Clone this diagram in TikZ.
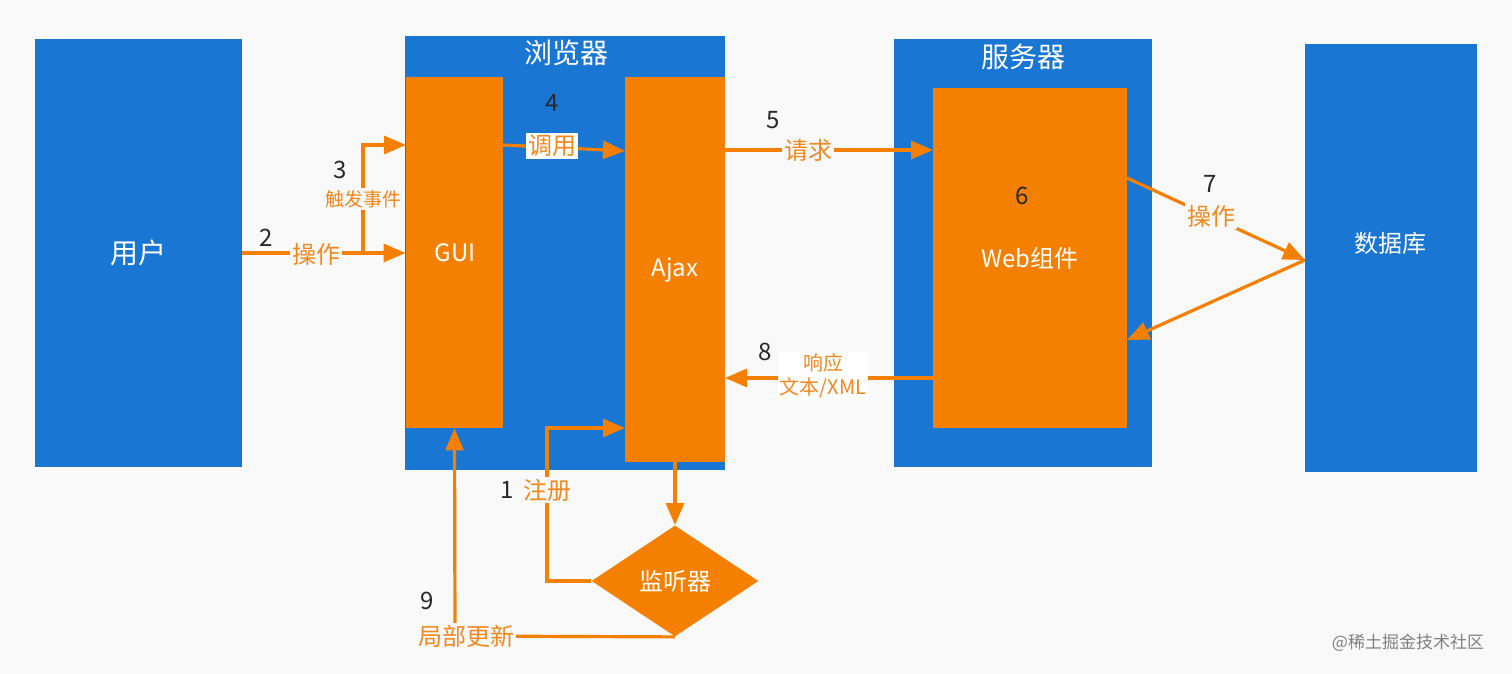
\documentclass[tikz,border=0pt]{standalone}
\usepackage{fontspec}
\setmainfont{Noto Sans CJK SC}
\usetikzlibrary{arrows.meta,shapes.geometric,fit}
\definecolor{bg}{RGB}{249,249,249}
\definecolor{bl}{RGB}{25,118,210}
\definecolor{og}{RGB}{245,128,0}
\definecolor{ogt}{RGB}{240,136,30}
\definecolor{num}{RGB}{40,40,40}
\tikzset{
  bluebox/.style={fill=bl,inner sep=0pt,text=white},
  orbox/.style={fill=og,inner sep=0pt,text=white},
  big/.style={font=\fontsize{14}{16}\selectfont},
  mid/.style={font=\fontsize{12}{14}\selectfont},
  lbl/.style={text=ogt,font=\fontsize{12}{14}\selectfont,inner sep=1pt},
  small/.style={text=ogt,font=\fontsize{9.5}{11}\selectfont,inner sep=1pt},
  numb/.style={text=num,font=\fontsize{12}{14}\selectfont,inner sep=0pt},
  arr/.style={draw=og,line width=1.6pt,-{Triangle[length=11pt,width=9pt]}},
}
\begin{document}
\begin{tikzpicture}[x=0.5pt,y=-0.5pt]
\fill[bg] (0,0) rectangle (1512,674);
\useasboundingbox (0,0) rectangle (1512,674);
% boxes
\node[bluebox,fit={(35,39) (242,467)}] (user) {};
\node[big,text=white] (usert) at (138,253) {用户};
\node[bluebox,fit={(405,36) (725,470)}] (browser) {};
\node[big,text=white] (browsert) at (566,53) {浏览器};
\node[orbox,fit={(406,77) (503,428)}] (gui) {};
\node[mid,text=white] (guit) at (455,253) {GUI};
\node[orbox,fit={(625,77) (725,462)}] (ajax) {};
\node[mid,text=white] (ajaxt) at (675,270) {Ajax};
\node[bluebox,fit={(894,39) (1152,467)}] (server) {};
\node[big,text=white] (servert) at (1023,57) {服务器};
\node[orbox,fit={(933,88) (1127,428)}] (web) {};
\node[numb] (n6) at (1022,196) {6};
\node[mid,text=white] (webt) at (1030,258) {Web组件};
\node[bluebox,fit={(1305,44) (1477,472)}] (db) {};
\node[mid,text=white] (dbt) at (1390,243) {数据库};
\node[diamond,fill=og,minimum width=83.5pt,minimum height=55.5pt,inner sep=0pt] (lis) at (675,581) {};
\node[mid,text=white] (list) at (675,581) {监听器};
% coordinates
\coordinate (b3) at (363,253);
\coordinate (g3) at (406,145);
\coordinate (t3) at (363,145);
\coordinate (g4) at (503,145);
\coordinate (a4) at (625,151);
\coordinate (a5) at (725,150);
\coordinate (w5) at (933,150);
\coordinate (w7) at (1127,178);
\coordinate (d7) at (1305,260);
\coordinate (w7b) at (1127,340);
\coordinate (w8) at (933,378);
\coordinate (a8) at (725,378);
\coordinate (c1) at (547,581);
\coordinate (a1) at (625,428);
\coordinate (c9) at (455,636);
% arrows
\draw[arr] (user.east |- b3) -- (gui.west |- b3);
\draw[arr] (b3) -- (t3) -- (g3);
\draw[arr] (g4) -- (a4);
\draw[arr] (a5) -- (w5);
\draw[arr] (w7) -- (d7);
\draw[arr] (d7) -- (w7b);
\draw[arr] (w8) -- (a8);
\draw[arr] (ajax.south) -- (lis.north);
\draw[arr] (lis.west) -- (c1) |- (a1);
\draw[arr] (lis.south) -- (c9) -- (gui.south);
% labels
\node[lbl,fill=bg] (l2) at (316,254) {操作};
\node[numb] (n2) at (266,238) {2};
\node[small,fill=bg] (l3) at (363,199) {触发事件};
\node[numb] (n3) at (340,170) {3};
\node[lbl,fill=white] (l4) at (552,146) {调用};
\node[numb] (n4) at (552,103) {4};
\node[lbl,fill=bg] (l5) at (808,150) {请求};
\node[numb] (n5) at (773,120) {5};
\node[lbl,fill=bg] (l7) at (1211,216) {操作};
\node[numb] (n7) at (1210,184) {7};
\node[small,fill=white,align=center,font=\fontsize{10}{12}\selectfont] (l8) at (823,376) {响应\\文本/XML};
\node[numb] (n8) at (765,352) {8};
\node[lbl,fill=bg] (l1) at (547,490) {注册};
\node[numb] (n1) at (507,490) {1};
\node[lbl,fill=bg] (l9) at (466,636) {局部更新};
\node[numb] (n9) at (427,601) {9};
\node[text=gray,font=\fontsize{8.5}{10}\selectfont] (wm) at (1408,643) {@稀土掘金技术社区};
\end{tikzpicture}
\end{document}
